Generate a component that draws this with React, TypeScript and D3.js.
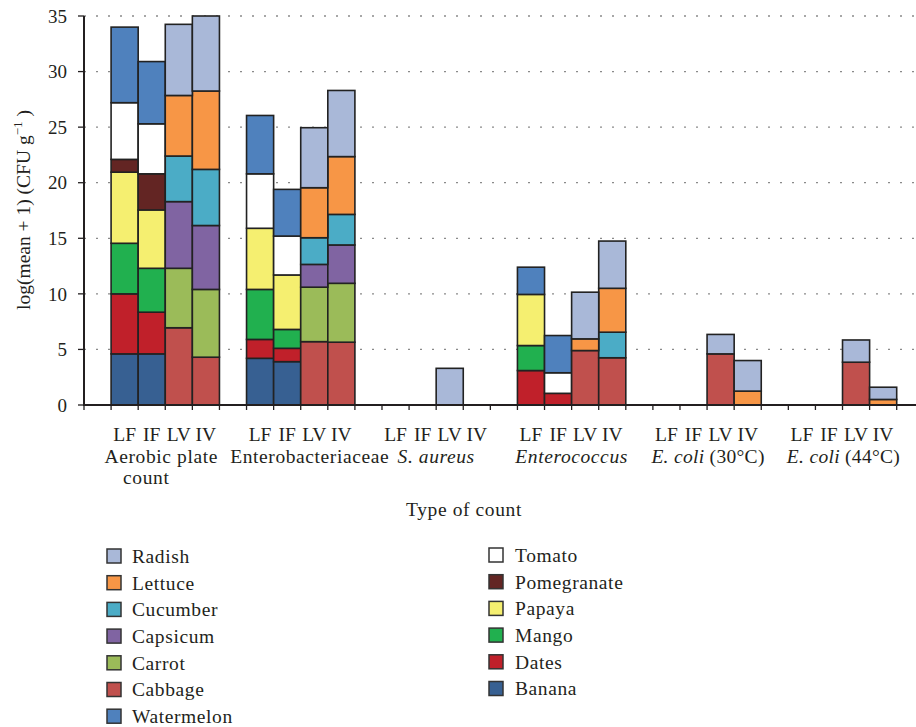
import React from "react";
import * as d3 from "d3";

const groups = ["Aerobic plate count", "Enterobacteriaceae", "S. aureus", "Enterococcus", "E. coli (30°C)", "E. coli (44°C)"];
const sources = ["LF", "IF", "LV", "IV"];

// values per group in order LF, IF, LV, IV
const banana = [4.6, 4.6, 0, 0, 4.2, 3.9, 0, 0, 0, 0, 0, 0, 0, 0, 0, 0, 0, 0, 0, 0, 0, 0, 0, 0];
const dates = [5.4, 3.75, 0, 0, 1.7, 1.2, 0, 0, 0, 0, 0, 0, 3.1, 1.05, 0, 0, 0, 0, 0, 0, 0, 0, 0, 0];
const mango = [4.55, 3.95, 0, 0, 4.5, 1.7, 0, 0, 0, 0, 0, 0, 2.25, 0, 0, 0, 0, 0, 0, 0, 0, 0, 0, 0];
const papaya = [6.4, 5.25, 0, 0, 5.5, 4.9, 0, 0, 0, 0, 0, 0, 4.6, 0, 0, 0, 0, 0, 0, 0, 0, 0, 0, 0];
const pomegranate = [1.15, 3.25, 0, 0, 0, 0, 0, 0, 0, 0, 0, 0, 0, 0, 0, 0, 0, 0, 0, 0, 0, 0, 0, 0];
const tomato = [5.1, 4.5, 0, 0, 4.9, 3.5, 0, 0, 0, 0, 0, 0, 0, 1.85, 0, 0, 0, 0, 0, 0, 0, 0, 0, 0];
const watermelon = [6.8, 5.6, 0, 0, 5.25, 4.2, 0, 0, 0, 0, 0, 0, 2.45, 3.35, 0, 0, 0, 0, 0, 0, 0, 0, 0, 0];
const cabbage = [0, 0, 6.95, 4.3, 0, 0, 5.7, 5.65, 0, 0, 0, 0, 0, 0, 4.9, 4.25, 0, 0, 4.6, 0, 0, 0, 3.85, 0];
const carrot = [0, 0, 5.35, 6.1, 0, 0, 4.9, 5.3, 0, 0, 0, 0, 0, 0, 0, 0, 0, 0, 0, 0, 0, 0, 0, 0];
const capsicum = [0, 0, 6.0, 5.75, 0, 0, 2.05, 3.45, 0, 0, 0, 0, 0, 0, 0, 0, 0, 0, 0, 0, 0, 0, 0, 0];
const cucumber = [0, 0, 4.1, 5.05, 0, 0, 2.4, 2.75, 0, 0, 0, 0, 0, 0, 0, 2.3, 0, 0, 0, 0, 0, 0, 0, 0];
const lettuce = [0, 0, 5.45, 7.05, 0, 0, 4.5, 5.2, 0, 0, 0, 0, 0, 0, 1.05, 3.95, 0, 0, 0, 1.25, 0, 0, 0, 0.5];
const radish = [0, 0, 6.4, 6.75, 0, 0, 5.4, 5.95, 0, 0, 3.3, 0, 0, 0, 4.2, 4.25, 0, 0, 1.75, 2.75, 0, 0, 2.0, 1.1];

const seriesNames = ["Banana", "Dates", "Mango", "Papaya", "Pomegranate", "Tomato", "Watermelon", "Cabbage", "Carrot", "Capsicum", "Cucumber", "Lettuce", "Radish"];
const seriesValues = [banana, dates, mango, papaya, pomegranate, tomato, watermelon, cabbage, carrot, capsicum, cucumber, lettuce, radish];
const colors: Record<string, string> = {
  Banana: "#376092",
  Dates: "#c0202a",
  Mango: "#21b04f",
  Papaya: "#f5ef70",
  Pomegranate: "#632523",
  Tomato: "#ffffff",
  Watermelon: "#4f81bd",
  Cabbage: "#c0504d",
  Carrot: "#9bbb59",
  Capsicum: "#8064a2",
  Cucumber: "#4bacc6",
  Lettuce: "#f79646",
  Radish: "#a9b8d8",
};
const legendLeft = ["Radish", "Lettuce", "Cucumber", "Capsicum", "Carrot", "Cabbage", "Watermelon"];
const legendRight = ["Tomato", "Pomegranate", "Papaya", "Mango", "Dates", "Banana"];
const yTicks = [0, 5, 10, 15, 20, 25, 30, 35];

const FONT = "'Liberation Serif', 'Times New Roman', serif";
const FS = 19.5;
const LS = 0.6;
const INK = "#231f20";

export default function App() {
  const nSlots = groups.length * 5;
  const x = d3.scaleLinear().domain([0, nSlots]).range([84, 896.7]);
  const y = d3.scaleLinear().domain([0, 35]).range([405, 16]);
  const slotW = x(1) - x(0);

  const rows = groups.flatMap((g, gi) =>
    sources.map((s, si) => {
      const row: any = { key: `${gi}-${s}`, group: gi, src: si, slot: gi * 5 + 1 + si };
      seriesNames.forEach((n, k) => (row[n] = seriesValues[k][gi * 4 + si]));
      return row;
    })
  );
  const stacked = d3.stack<any>().keys(seriesNames)(rows);
  const ticksX = d3.range(0, nSlots + 1);

  return (
    <svg
      width={916}
      height={727}
      style={{ position: "absolute", left: 0, top: 0, display: "block", fontFamily: FONT, background: "#fff" }}
    >
      {/* grid */}
      {yTicks.filter((t) => t > 0).map((t) => (
        <line key={t} x1={84} x2={916} y1={y(t)} y2={y(t)} stroke="#8a8a8a" strokeWidth={1.3} strokeDasharray="2 10" />
      ))}
      {/* bars */}
      {stacked.map((layer) =>
        layer.map((d, i) => {
          const v = d[1] - d[0];
          if (v <= 0) return null;
          const r = rows[i];
          return (
            <rect
              key={layer.key + i}
              x={x(r.slot)}
              y={y(d[1])}
              width={slotW}
              height={y(d[0]) - y(d[1])}
              fill={colors[layer.key]}
              stroke="#222"
              strokeWidth={1.6}
            />
          );
        })
      )}
      {/* axes */}
      <line x1={84} x2={84} y1={y(35)} y2={406} stroke={INK} strokeWidth={2} />
      <line x1={83} x2={916} y1={y(0)} y2={y(0)} stroke={INK} strokeWidth={2.2} />
      {yTicks.map((t) => (
        <g key={t}>
          <line x1={78} x2={84} y1={y(t)} y2={y(t)} stroke={INK} strokeWidth={1.3} />
          <text x={67} y={y(t)} dy="0.35em" textAnchor="end" fontSize={19} fill={INK}>
            {t}
          </text>
        </g>
      ))}
      {ticksX.map((t) => (
        <line key={t} x1={x(t)} x2={x(t)} y1={y(0)} y2={y(0) + 5} stroke={INK} strokeWidth={1.3} />
      ))}
      {/* source labels */}
      {rows.map((r) => (
        <text key={r.key} x={x(r.slot + 0.5)} y={441} textAnchor="middle" fontSize={FS} fill={INK}>
          {sources[r.src]}
        </text>
      ))}
      {/* group labels */}
      {groups.map((g, gi) => {
        const cx = x(gi * 5 + 3);
        if (gi === 0)
          return (
            <text key={g} x={cx - 4} y={463} textAnchor="middle" fontSize={FS} letterSpacing={LS} fill={INK}>
              <tspan x={cx - 4}>Aerobic plate</tspan>
              <tspan x={cx - 19} dy={21}>count</tspan>
            </text>
          );
        if (gi === 1)
          return (
            <text key={g} x={cx + 9} y={463} textAnchor="middle" fontSize={FS} letterSpacing={LS} fill={INK}>
              {g}
            </text>
          );
        if (gi === 2 || gi === 3)
          return (
            <text key={g} x={cx} y={463} textAnchor="middle" fontSize={FS} letterSpacing={LS} fontStyle="italic" fill={INK}>
              {g}
            </text>
          );
        const rest = g.replace("E. coli", "");
        return (
          <text key={g} x={cx + 1} y={463} textAnchor="middle" fontSize={FS} letterSpacing={0.3} fill={INK}>
            <tspan fontStyle="italic">E. coli</tspan>
            <tspan>{rest}</tspan>
          </text>
        );
      })}
      <text x={464} y={516} textAnchor="middle" fontSize={FS} letterSpacing={LS} fill={INK}>
        Type of count
      </text>
      {/* y title */}
      <text transform="translate(30,210) rotate(-90)" textAnchor="middle" fontSize={FS} fill={INK}>
        log(mean + 1) (CFU g
        <tspan dy={-8} fontSize={13}>−1</tspan>
        <tspan dy={8}> )</tspan>
      </text>
      {/* legend */}
      {legendLeft.map((n, i) => (
        <g key={n} transform={`translate(107,${556 + i * 26.7})`}>
          <rect x={0} y={-7} width={14} height={14} fill={colors[n]} stroke="#333" strokeWidth={1.5} />
          <text x={25} y={0} dy="0.35em" fontSize={FS} letterSpacing={LS} fill={INK}>
            {n}
          </text>
        </g>
      ))}
      {legendRight.map((n, i) => (
        <g key={n} transform={`translate(489,${555 + i * 26.7})`}>
          <rect x={0} y={-7} width={14} height={14} fill={colors[n]} stroke="#333" strokeWidth={1.5} />
          <text x={26} y={0} dy="0.35em" fontSize={FS} letterSpacing={LS} fill={INK}>
            {n}
          </text>
        </g>
      ))}
    </svg>
  );
}
